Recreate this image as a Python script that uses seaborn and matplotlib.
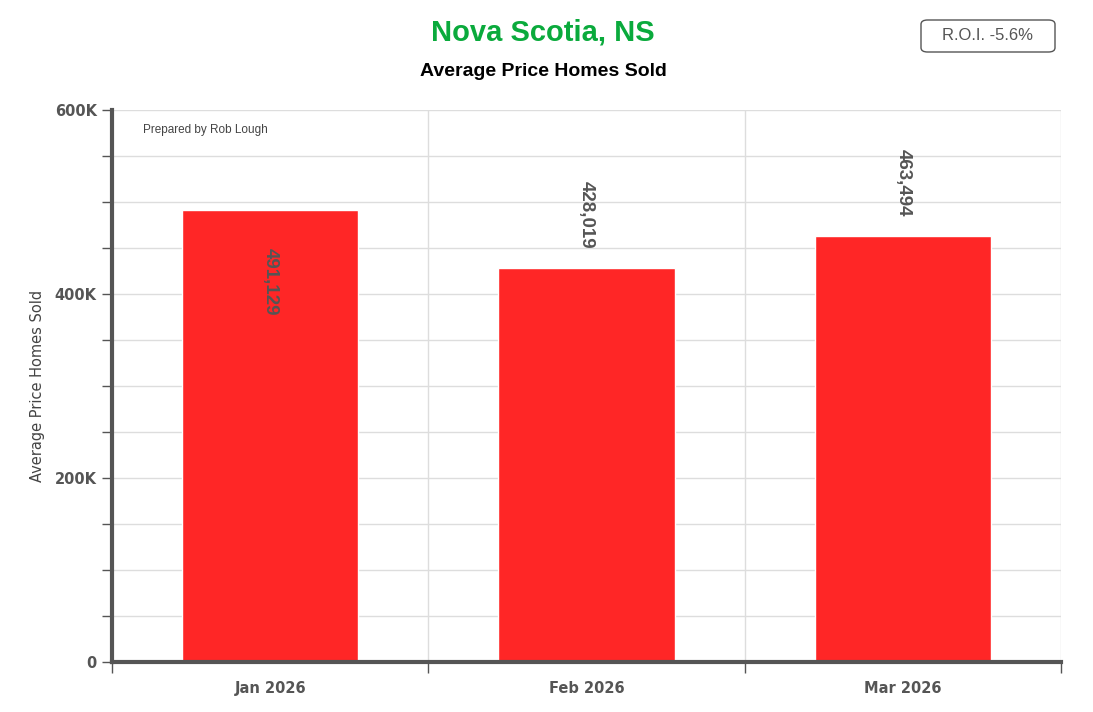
import matplotlib
matplotlib.use('agg')
import matplotlib.pyplot as plt
from matplotlib.patches import FancyBboxPatch
from matplotlib.ticker import MultipleLocator, FuncFormatter, FixedLocator
import seaborn as sns

months = ['Jan 2026', 'Feb 2026', 'Mar 2026']
prices = [491129, 428019, 463494]
label_inside = [True, False, False]
title = 'Nova Scotia, NS'
subtitle = 'Average Price Homes Sold'
roi_text = 'R.O.I. -5.6%'

sns.set_style('white')
plt.rcParams['font.family'] = ['DejaVu Sans']

fig = plt.figure(figsize=(10.93, 7.12), dpi=100)
ax = fig.add_axes([0.1025, 0.0702, 0.8682, 0.7753])

sns.barplot(x=months, y=prices, color='#ff2626', saturation=1, width=0.557, ax=ax, zorder=3)

ax.set_xlim(-0.5, 2.5)
ax.set_ylim(0, 600000)

ax.yaxis.set_major_locator(MultipleLocator(200000))
ax.yaxis.set_minor_locator(MultipleLocator(50000))
ax.yaxis.set_major_formatter(FuncFormatter(lambda v, p: '0' if v == 0 else f'{int(v/1000)}K'))
ax.xaxis.set_minor_locator(FixedLocator([-0.5, 0.5, 1.5, 2.5]))

ax.grid(True, which='both', axis='y', color='#dddddd', lw=1, zorder=0)
ax.grid(True, which='minor', axis='x', color='#dddddd', lw=1, zorder=0)
ax.grid(False, which='major', axis='x')

ax.tick_params(axis='y', which='both', left=True, length=7, width=1, color='#555555')
ax.tick_params(axis='y', which='major', labelsize=10.5, labelcolor='#555555', pad=4)
ax.tick_params(axis='x', which='major', length=0, labelsize=10.5, labelcolor='#555555', pad=14)
ax.tick_params(axis='x', which='minor', bottom=True, length=8, width=1, color='#555555')
for lbl in ax.get_yticklabels() + ax.get_xticklabels():
    lbl.set_fontweight('bold')

for s in ['top', 'right']:
    ax.spines[s].set_visible(False)
for s in ['left', 'bottom']:
    ax.spines[s].set_color('#555555')
    ax.spines[s].set_linewidth(3)
    ax.spines[s].set_zorder(4)

ax.set_xlabel('')
ax.set_ylabel('Average Price Homes Sold', fontsize=10.5, color='#444444', labelpad=7)

for i, (v, inside) in enumerate(zip(prices, label_inside)):
    if inside:
        ax.annotate(f'{v:,}', (i, v), xytext=(0, -27), textcoords='offset points',
                    ha='center', va='top', rotation=-90, fontsize=13.5,
                    fontweight='bold', color='#555555', family='Liberation Sans', zorder=5)
    else:
        ax.annotate(f'{v:,}', (i, v), xytext=(0, 14), textcoords='offset points',
                    ha='center', va='bottom', rotation=-90, fontsize=13.5,
                    fontweight='bold', color='#555555', family='Liberation Sans', zorder=5)

ax.text(0.033, 0.975, 'Prepared by Rob Lough', transform=ax.transAxes, fontsize=8.5,
        color='#444444', family='Liberation Sans', va='top', ha='left')

fig.text(0.497, 0.955, title, ha='center', va='center', fontsize=21, fontweight='bold',
         color='#0aaa3c', family='Liberation Sans')
fig.text(0.497, 0.899, subtitle, ha='center', va='center', fontsize=14, fontweight='bold',
         color='#000000', family='Liberation Sans')

box = FancyBboxPatch((921 / 1093, 1 - 52 / 712), 134 / 1093, 32 / 712,
                     boxstyle='round,pad=0,rounding_size=0.006', transform=fig.transFigure,
                     facecolor='white', edgecolor='#555555', lw=1)
fig.patches.append(box)
fig.text(988 / 1093, 1 - 36 / 712, roi_text, ha='center', va='center', fontsize=12,
         color='#555555', family='Liberation Sans')

fig.savefig('out.png', dpi=100)
